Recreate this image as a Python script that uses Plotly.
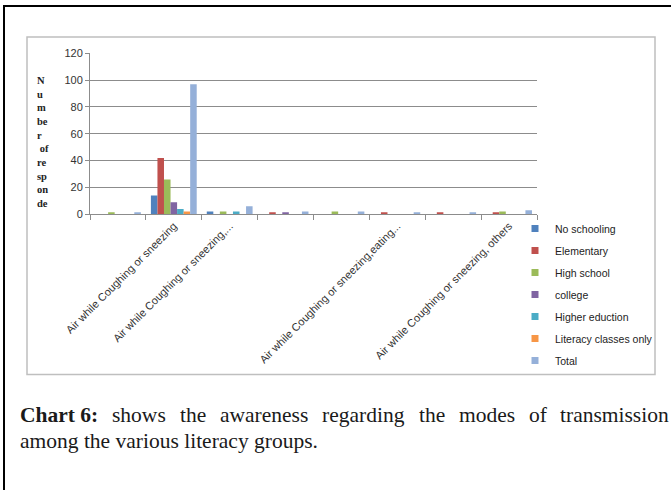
import plotly.graph_objects as go

W, H = 671, 490

categories = ["", "Air while Coughing or sneezing", "Air while Coughing or sneezing,...", "", "",
              "Air while Coughing or sneezing,eating...", "", "Air while Coughing or sneezing, others"]

series_names = ["No schooling", "Elementary", "High school", "college",
                "Higher eduction", "Literacy classes only", "Total"]
no_schooling = [0, 14, 2, 0, 0, 0, 0, 0]
elementary = [0, 42, 0, 1, 0, 1, 1, 1]
high_school = [1, 26, 2, 0, 2, 0, 0, 2]
college = [0, 9, 0, 1, 0, 0, 0, 0]
higher_eduction = [0, 4, 2, 0, 0, 0, 0, 0]
literacy_only = [0, 2, 0, 0, 0, 0, 0, 0]
total = [1, 97, 6, 2, 2, 1, 1, 3]
y_ticks = [0, 20, 40, 60, 80, 100, 120]

series_values = [no_schooling, elementary, high_school, college, higher_eduction, literacy_only, total]
colors = ["#4F81BD", "#C0504D", "#9BBB59", "#8064A2", "#4BACC6", "#F79646", "#95B0D9"]

def xp(px):
    return px / W

def yp(py):
    return 1 - py / H

x_idx = list(range(len(categories)))

fig = go.Figure()
for name, vals, c in zip(series_names, series_values, colors):
    fig.add_trace(go.Bar(x=x_idx, y=vals, name=name, marker=dict(color=c, line=dict(width=0)),
                         showlegend=False))
for i, (name, c) in enumerate(zip(series_names, colors)):
    fig.add_trace(go.Scatter(x=[None], y=[None], mode="markers", name=name,
                             marker=dict(symbol="square", size=7, color=c),
                             legendgroup="g%d" % i, showlegend=True))

grid_c = "#8C8C8C"
fig.update_layout(
    width=W, height=H, margin=dict(l=0, r=0, t=0, b=0, autoexpand=False),
    paper_bgcolor="white", plot_bgcolor="white",
    barmode="group", bargap=0.18, bargroupgap=0,
    font=dict(family="Liberation Sans", size=11, color="#333333"),
    xaxis=dict(domain=[xp(90), xp(537)], range=[-0.5, 7.5], automargin=False,
               tickmode="array", tickvals=x_idx, ticktext=categories, tickangle=-45,
               ticks="", showgrid=False, zeroline=False,
               showline=True, linecolor=grid_c, linewidth=1,
               tickfont=dict(family="Liberation Sans", size=11, color="#333333"),
               minor=dict(tickmode="array", tickvals=[i - 0.5 for i in range(len(categories) + 1)],
                          ticks="outside", ticklen=5, tickcolor=grid_c, tickwidth=1, showgrid=False)),
    yaxis=dict(domain=[yp(214.3), yp(53.3)], range=[0, 120], automargin=False,
               tickmode="array", tickvals=y_ticks,
               ticks="outside", ticklen=4, tickcolor=grid_c,
               showgrid=True, gridcolor=grid_c, gridwidth=1, zeroline=False,
               showline=True, linecolor=grid_c, linewidth=1,
               tickfont=dict(family="Liberation Sans", size=11, color="#333333")),
    legend=dict(x=xp(515), y=yp(214), xanchor="left", yanchor="top",
                font=dict(family="Liberation Sans", size=10.5, color="#222222"),
                tracegroupgap=3, bgcolor="rgba(0,0,0,0)", itemsizing="trace"),
    shapes=[
        dict(type="rect", xref="paper", yref="paper", x0=xp(4), x1=xp(690), y0=yp(6), y1=yp(510),
             line=dict(color="black", width=2), layer="below"),
        dict(type="rect", xref="paper", yref="paper", x0=xp(27), x1=xp(655), y0=yp(37), y1=yp(374.5),
             line=dict(color="#BFBFBF", width=1.5), layer="below"),
    ],
)

annotations = [
    dict(text="<b>N<br>u<br>m<br>be<br>r<br> of<br>re<br>sp<br>on<br>de</b>", x=xp(35), y=yp(73),
         xref="paper", yref="paper", xanchor="left", yanchor="top", align="left", showarrow=False,
         font=dict(family="Liberation Serif", size=10.5, color="#222222")),
]
cap_font = dict(family="Liberation Serif", size=21.5, color="#1a1a1a")
line1_words = [("<b>Chart 6:</b>", 18), ("shows", 110), ("the", 177.5), ("awareness", 218),
               ("regarding", 320), ("the", 416.5), ("modes", 456.5), ("of", 526.5), ("transmission", 558)]
for w, x in line1_words:
    annotations.append(dict(text=w, x=xp(x), y=yp(415), xref="paper", yref="paper",
                            xanchor="left", yanchor="middle", showarrow=False, font=cap_font))
annotations.append(dict(text="among the various literacy groups.", x=xp(18), y=yp(441),
                        xref="paper", yref="paper", xanchor="left", yanchor="middle",
                        showarrow=False, font=cap_font))
fig.update_layout(annotations=annotations)

fig.write_html("out.html", config={"displayModeBar": False},
               post_script="document.body.style.margin='0';document.body.style.overflow='hidden';")
